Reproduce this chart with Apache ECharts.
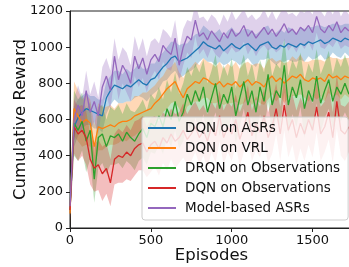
<!DOCTYPE html>
<html>
<head>
<meta charset="utf-8">
<script src="https://cdn.jsdelivr.net/npm/echarts@6/dist/echarts.min.js"></script>
<style>
  html, body { margin: 0; padding: 0; background: #fff; }
  #chart { width: 349px; height: 267px; }
</style>
</head>
<body>
<div id="chart"></div>
<script>
/* cumulative reward curves, mean line + shaded spread */
var episodes = [
  0,25,50,75,100,125,150,175,200,225,
  250,275,300,325,350,375,400,425,450,475,
  500,525,550,575,600,625,650,675,700,725,
  750,775,800,825,850,875,900,925,950,975,
  1000,1025,1050,1075,1100,1125,1150,1175,1200,1225,
  1250,1275,1300,1325,1350,1375,1400,1425,1450,1475,
  1500,1525,1550,1575,1600,1625,1650,1675,1700,1725
];
var xTicks = [0, 500, 1000, 1500];
var yTicks = [0, 200, 400, 600, 800, 1000, 1200];

var names = ['DQN on ASRs', 'DQN on VRL', 'DRQN on Observations', 'DQN on Observations', 'Model-based ASRs'];

var meanASR = [
  100,560,610,640,660,650,640,630,620,720,
  760,790,780,770,790,780,800,820,800,790,
  820,830,860,890,910,940,950,920,930,940,
  960,980,1000,1030,1010,1000,990,1010,980,1000,
  1020,1000,990,1010,1020,1000,980,1010,1020,1030,
  1000,990,1010,1000,1020,1010,1000,1020,1010,1030,
  1020,1030,1040,1020,1030,1050,1040,1030,1050,1040
];
var spreadASR = [
  50,110,100,90,90,80,90,80,90,90,
  80,80,90,80,90,80,80,90,80,90,
  90,80,90,80,90,90,80,90,90,80,
  90,90,80,90,90,80,90,90,80,90,
  90,80,90,90,80,90,90,80,90,90,
  80,90,90,80,90,90,80,90,90,80,
  90,90,80,90,90,80,90,90,80,90
];

var meanVRL = [
  80,660,620,580,600,580,450,560,550,560,
  570,560,580,590,590,600,620,630,640,650,
  660,690,710,740,770,790,810,760,720,770,
  790,810,800,830,820,800,790,810,780,800,
  790,810,780,800,820,790,810,800,780,820,
  840,810,830,800,820,840,830,850,820,810,
  830,820,830,810,850,830,840,820,840,830
];
var spreadVRL = [
  60,150,140,130,140,130,120,130,120,110,
  110,100,110,100,110,100,110,100,110,100,
  110,100,110,100,110,100,110,100,110,100,
  100,110,100,110,100,110,100,110,100,110,
  100,110,100,110,100,110,100,110,100,110,
  100,110,100,110,100,110,100,110,100,110,
  100,110,100,110,100,110,100,110,100,110
];

var meanDRQN = [
  120,580,540,590,480,540,270,500,520,450,
  510,500,520,480,530,500,480,520,550,500,
  580,560,620,560,660,600,700,590,640,740,
  680,760,700,780,640,720,800,660,740,690,
  780,620,720,810,680,760,640,780,700,850,
  680,760,720,900,680,780,720,820,660,760,
  700,840,690,760,820,700,780,740,800,740
];
var spreadDRQN = [
  60,180,170,160,170,160,130,170,160,150,
  160,150,160,150,160,150,160,150,160,150,
  160,150,160,150,160,150,160,150,160,150,
  160,150,160,150,160,150,160,150,160,150,
  160,150,160,150,160,150,160,150,160,150,
  160,150,160,150,160,150,160,150,160,150,
  160,150,160,150,160,150,160,150,160,150
];

var meanObs = [
  100,560,520,540,500,380,330,350,300,330,
  250,380,400,390,420,400,440,460,470,420,
  460,480,440,500,470,520,480,500,540,490,
  520,560,500,540,480,560,510,620,500,560,
  520,600,490,560,640,510,580,530,620,500,
  560,660,520,680,540,600,500,580,520,600,
  540,670,520,560,640,500,700,540,520,560
];
var spreadObs = [
  60,150,150,140,150,140,130,140,150,140,
  130,140,150,140,150,140,150,140,150,140,
  150,140,150,140,150,140,150,140,150,140,
  150,140,150,140,150,140,150,140,150,140,
  150,140,150,140,150,140,150,140,150,140,
  150,140,150,140,150,140,150,140,150,140,
  150,140,150,140,150,140,150,140,150,140
];

var meanModel = [
  120,600,680,620,760,640,700,620,780,840,
  760,950,820,900,860,800,950,880,940,850,
  930,960,920,1010,980,960,1050,900,1000,1060,
  1040,1150,1060,1080,1040,1090,1060,1030,1080,1050,
  1100,1060,1080,1120,1060,1090,1050,1080,1110,1070,
  1100,1060,1090,1130,1080,1100,1070,1110,1090,1120,
  1080,1170,1100,1080,1120,1090,1140,1080,1110,1090
];
var spreadModel = [
  60,110,110,100,110,100,110,100,110,100,
  110,100,110,100,110,100,110,100,110,100,
  100,90,100,90,100,90,100,90,100,90,
  100,90,100,90,100,90,100,90,100,90,
  100,90,100,90,100,90,100,90,100,90,
  100,90,100,90,100,90,100,90,100,90,
  100,90,100,90,100,90,100,90,100,90
];

var colors = ['#1f77b4', '#ff7f0e', '#2ca02c', '#d62728', '#9467bd'];
var means = [meanASR, meanVRL, meanDRQN, meanObs, meanModel];
var spreads = [spreadASR, spreadVRL, spreadDRQN, spreadObs, spreadModel];

var chart = echarts.init(document.getElementById('chart'), null, { renderer: 'canvas' });

// one polygon per band, built from [episode, low, high] rows via the axis scales
function bandSeries(s) {
  var rows = [];
  for (var i = 0; i < episodes.length; i++) {
    rows.push([episodes[i], means[s][i] - spreads[s][i], means[s][i] + spreads[s][i]]);
  }
  return {
    name: names[s] + ' band', type: 'custom', silent: true, z: 1,
    data: rows,
    encode: { x: 0, y: [1, 2] },
    clip: true,
    renderItem: function(params, api) {
      if (params.dataIndex !== 0) return null;
      var pts = [], k;
      for (k = 0; k < rows.length; k++) pts.push(api.coord([rows[k][0], rows[k][2]]));
      for (k = rows.length - 1; k >= 0; k--) pts.push(api.coord([rows[k][0], rows[k][1]]));
      return {
        type: 'polygon',
        shape: { points: pts },
        clipPath: {
          type: 'rect',
          shape: { x: params.coordSys.x, y: params.coordSys.y, width: params.coordSys.width, height: params.coordSys.height }
        },
        style: { fill: colors[s], opacity: 0.3 }
      };
    }
  };
}

var series = [];
for (var s = 0; s < names.length; s++) series.push(bandSeries(s));
for (var s2 = 0; s2 < names.length; s2++) {
  var pts = [];
  for (var j = 0; j < episodes.length; j++) pts.push([episodes[j], means[s2][j]]);
  series.push({
    name: names[s2], type: 'line', data: pts, symbol: 'none', z: 2,
    color: colors[s2],
    lineStyle: { color: colors[s2], width: 1.3 }
  });
}

function plain(v) { return String(v); }

chart.setOption({
  animation: false,
  grid: {
    left: 70, top: 11, right: -4, bottom: 39,
    outerBoundsMode: 'none', containLabel: false,
    show: true, borderColor: '#222', borderWidth: 1
  },
  xAxis: {
    type: 'value', min: 0, max: 1750, interval: 500,
    name: 'Episodes', nameLocation: 'middle', nameGap: 19, nameMoveOverlap: false,
    nameTextStyle: { fontFamily: 'DejaVu Sans', fontSize: 16.5, color: '#111' },
    axisLine: { lineStyle: { color: '#222' } },
    axisTick: { show: true, length: 4, lineStyle: { color: '#222' } },
    axisLabel: {
      fontFamily: 'DejaVu Sans', fontSize: 13, color: '#111', margin: 6,
      customValues: xTicks, formatter: plain
    },
    splitLine: { show: false }
  },
  yAxis: {
    type: 'value', min: 0, max: 1200, interval: 200,
    name: 'Cumulative Reward', nameLocation: 'middle', nameGap: 41, nameRotate: 90, nameMoveOverlap: false,
    nameTextStyle: { fontFamily: 'DejaVu Sans', fontSize: 16.5, color: '#111' },
    axisLine: { show: true, lineStyle: { color: '#222' } },
    axisTick: { show: true, length: 4, lineStyle: { color: '#222' } },
    axisLabel: {
      fontFamily: 'DejaVu Sans', fontSize: 13, color: '#111', margin: 7,
      customValues: yTicks, formatter: plain
    },
    splitLine: { show: false }
  },
  legend: {
    data: names,
    orient: 'vertical',
    left: 142, top: 117,
    padding: [4, 8, 5, 6],
    itemWidth: 28, itemHeight: 2, itemGap: 6,
    icon: 'rect',
    backgroundColor: 'rgba(255,255,255,0.8)',
    borderColor: '#cccccc', borderWidth: 1, borderRadius: 3,
    textStyle: { fontFamily: 'DejaVu Sans', fontSize: 13.5, color: '#111', lineHeight: 14, padding: [0, 0, 0, 4] }
  },
  series: series
});
</script>
</body>
</html>
